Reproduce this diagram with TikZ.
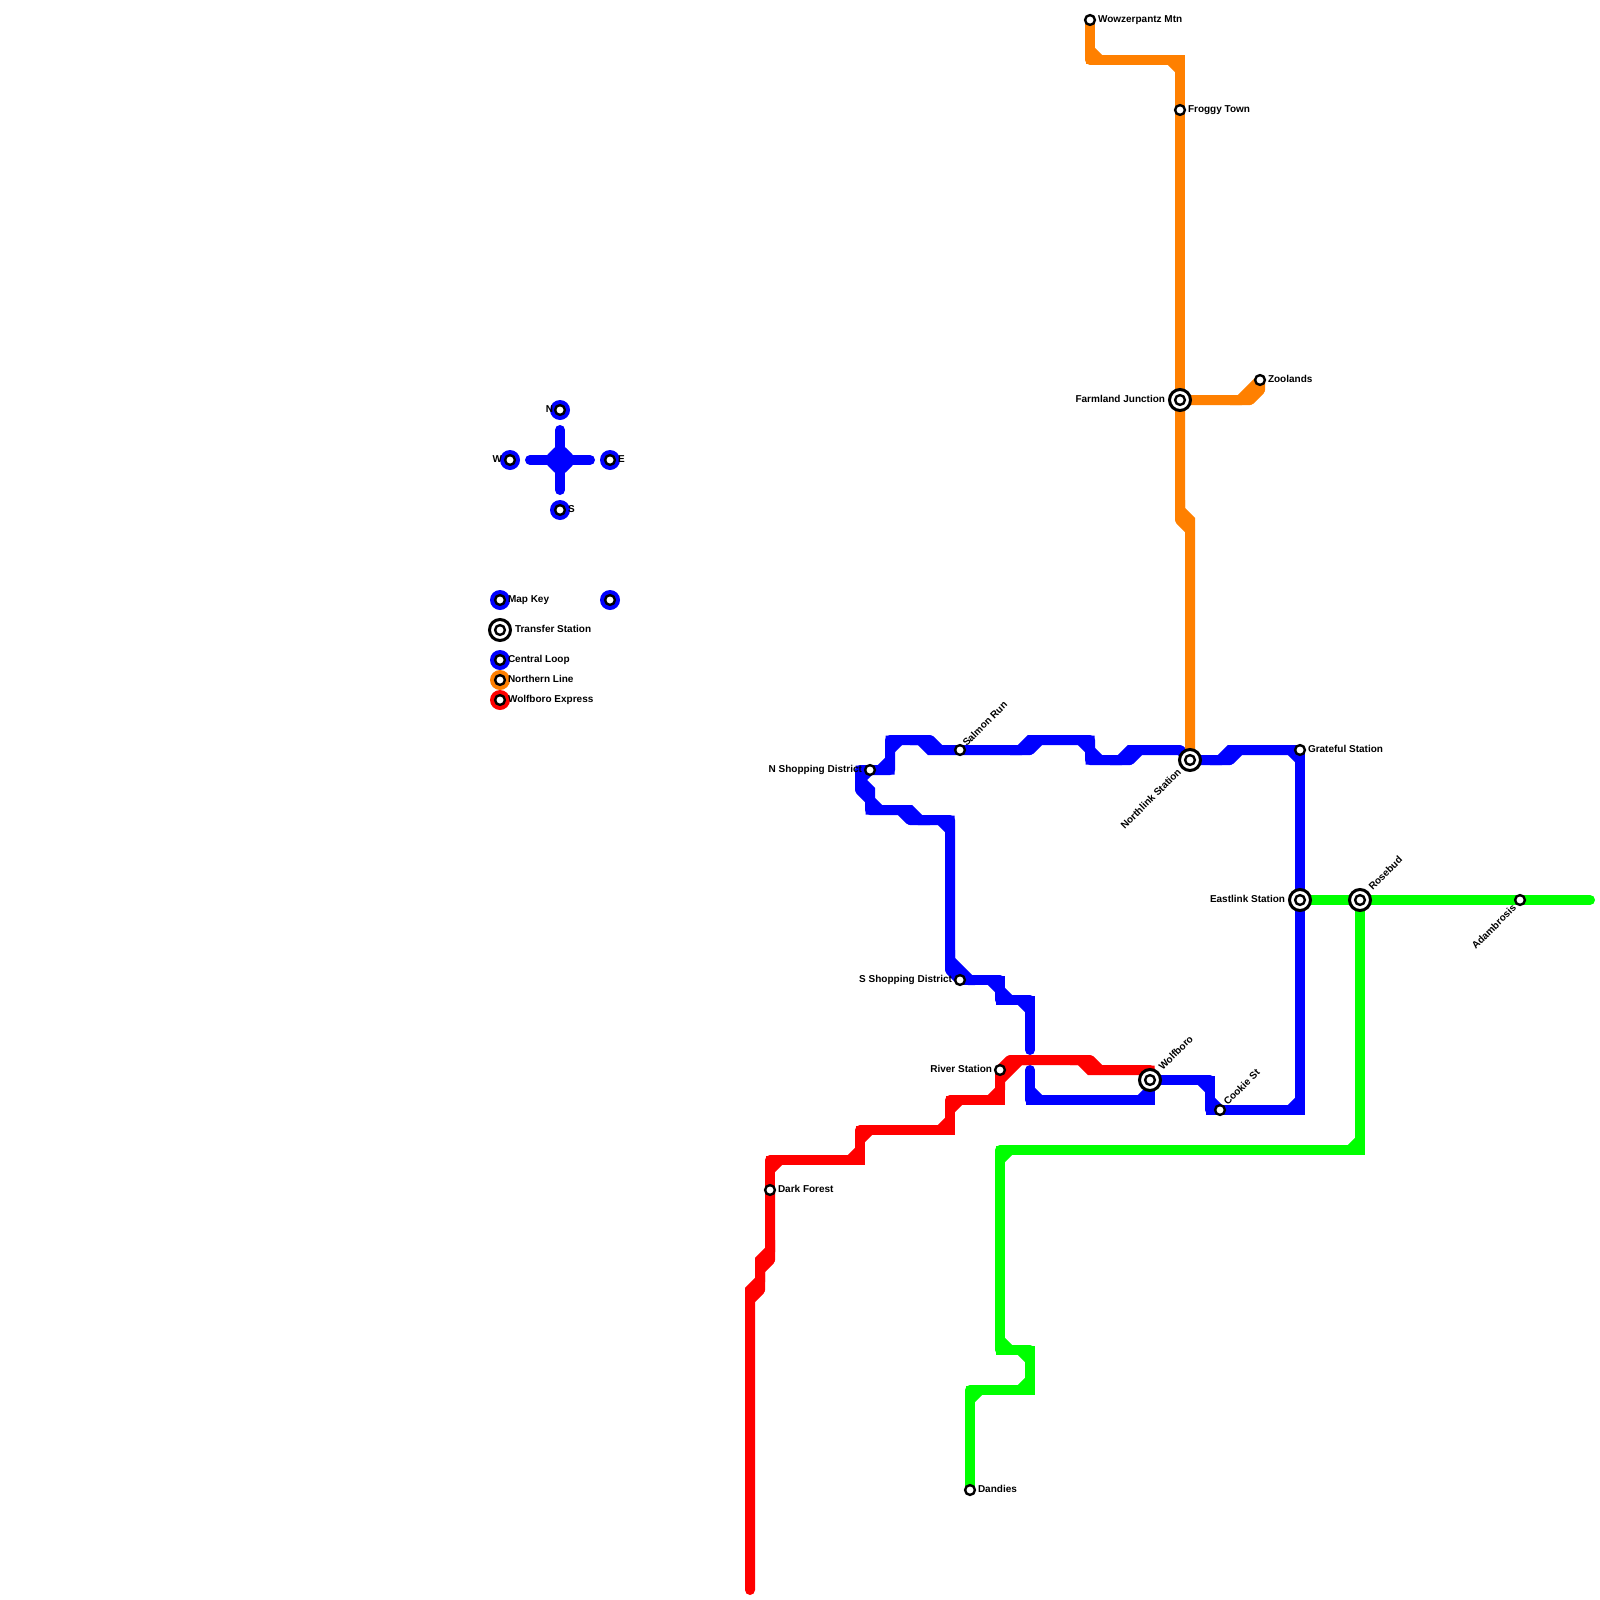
\documentclass[tikz,border=0pt]{standalone}
\usepackage{fontspec}
\setmainfont{Liberation Sans}
\usetikzlibrary{backgrounds}
\definecolor{cblue}{RGB}{0,0,255}
\definecolor{corange}{RGB}{255,128,0}
\definecolor{cred}{RGB}{255,0,0}
\definecolor{cgreen}{RGB}{0,255,0}
\tikzset{
  ln/.style={draw=#1,line width=10pt,line join=round,line cap=round,preaction={draw=#1,line width=9pt,line join=miter,miter limit=10}},
  ch/.style={draw=#1,line width=10pt,line cap=butt,line join=miter,miter limit=10},
  st/.style={circle,draw=black,fill=white,line width=2.4pt,minimum size=9.8pt,inner sep=0pt,outer sep=0pt},
  xfer/.style={circle,draw=black,fill=white,line width=3pt,minimum size=21pt,inner sep=0pt,outer sep=0pt,
    path picture={\draw[black,fill=white,line width=2.4pt] (path picture bounding box.center) circle (4.9pt);}},
  keyst/.style={circle,fill=#1,minimum size=20pt,inner sep=0pt,outer sep=0pt,
    path picture={\draw[black,fill=white,line width=2.4pt] (path picture bounding box.center) circle (4.9pt);}},
  lab/.style={inner sep=0pt,outer sep=0pt,text=black,font=\bfseries\fontsize{10}{10}\selectfont,text height=7pt,text depth=2pt},
  labr/.style={lab,anchor=west},
  labl/.style={lab,anchor=east},
  labu/.style={lab,anchor=west,rotate=45},
  labd/.style={lab,anchor=east,rotate=45}
}
\begin{document}
\begin{tikzpicture}[x=1pt,y=-1pt]
\useasboundingbox (0,0) rectangle (1600,1600);
% stations
\node[st] (wowz) at (1090,20) {};
\node[st] (frog) at (1180,110) {};
\node[xfer] (farm) at (1180,400) {};
\node[st] (zool) at (1260,380) {};
\node[xfer] (north) at (1190,760) {};
\node[st] (grat) at (1300,750) {};
\node[xfer] (east) at (1300,900) {};
\node[xfer] (rose) at (1360,900) {};
\node[st] (adam) at (1520,900) {};
\node[st] (salm) at (960,750) {};
\node[st] (nsho) at (870,770) {};
\node[st] (ssho) at (960,980) {};
\node[st] (river) at (1000,1070) {};
\node[xfer] (wolf) at (1150,1080) {};
\node[st] (cook) at (1220,1110) {};
\node[st] (dark) at (770,1190) {};
\node[st] (dand) at (970,1490) {};
\coordinate (gapn) at (1030,1050);
\coordinate (gaps) at (1030,1070);
\coordinate (redend) at (750,1590);
\coordinate (grnend) at (1590,900);
\coordinate (cw) at (530,460);
\coordinate (ce) at (590,460);
\coordinate (cn) at (560,430);
\coordinate (cs) at (560,490);
% key stations
\node[keyst=cblue] (kn) at (560,410) {};
\node[keyst=cblue] (kw) at (510,460) {};
\node[keyst=cblue] (ke) at (610,460) {};
\node[keyst=cblue] (ks) at (560,510) {};
\node[keyst=cblue] (kmap) at (500,600) {};
\node[keyst=cblue] (kmap2) at (610,600) {};
\node[xfer] (kxfer) at (500,630) {};
\node[keyst=cblue] (kcen) at (500,660) {};
\node[keyst=corange] (knor) at (500,680) {};
\node[keyst=cred] (kwol) at (500,700) {};
\begin{scope}[on background layer]
% compass
\draw[ln=cblue] (cw) -- (ce);
\draw[ln=cblue] (cn) -- (cs);
\draw[ch=cblue] (551,451) -- (569,469) (569,451) -- (551,469);
% blue
\draw[ln=cblue] (gapn) -- (1030,1000) -- (1000,1000) -- (1000,980) -- (ssho.center);
\draw[ln=cblue] (ssho.center) -- (950,970) -- (950,820) -- (910,820) -- (900,810) -- (870,810) -- (870,800) -- (860,790) -- (860,770) -- (nsho.center);
\draw[ln=cblue] (nsho.center) -- (890,770) -- (890,740) -- (930,740) -- (940,750) -- (salm.center);
\draw[ln=cblue] (salm.center) -- (1030,750) -- (1040,740) -- (1090,740) -- (1090,760) -- (1130,760) -- (1140,750) -- (1180,750) -- (north.center);
\draw[ln=cblue] (north.center) -- (1230,760) -- (1240,750) -- (grat.center);
\draw[ln=cblue] (grat.center) -- (east.center) -- (1300,1110) -- (cook.center);
\draw[ln=cblue] (cook.center) -- (1210,1110) -- (1210,1080) -- (wolf.center);
\draw[ln=cblue] (wolf.center) -- (1150,1100) -- (1030,1100) -- (gaps);
\draw[ch=cblue] (880,770) -- (890,760) (870,770) -- (860,780) (900,740) -- (890,750)
  (860,770) -- (860,780) -- (870,790) -- (870,800) (870,800) -- (880,810)
  (900,810) -- (910,810) -- (920,820) -- (930,820) (940,820) -- (950,830)
  (950,950) -- (950,960) -- (970,980) -- (975,980) (990,980) -- (1000,990) (1000,990) -- (1010,1000) (1020,1000) -- (1030,1010)
  (910,740) -- (920,740) -- (930,750) -- (940,750) (1010,750) -- (1020,750) -- (1030,740) -- (1040,740)
  (1080,740) -- (1090,750) (1090,750) -- (1100,760)
  (1110,760) -- (1120,760) -- (1130,750) -- (1140,750) (1210,760) -- (1220,760) -- (1230,750) -- (1240,750)
  (1290,750) -- (1300,760) (1290,1110) -- (1300,1100)
  (1210,1100) -- (1220,1110) (1200,1080) -- (1210,1090) (1140,1100) -- (1150,1090) (1030,1090) -- (1040,1100);
% orange
\draw[ln=corange] (wowz.center) -- (1090,60) -- (1180,60) -- (frog.center);
\draw[ln=corange] (frog.center) -- (farm.center);
\draw[ln=corange] (farm.center) -- (1180,520) -- (1190,530) -- (north.center);
\draw[ln=corange] (farm.center) -- (1250,400) -- (1260,390) -- (zool.center);
\draw[ch=corange] (1090,50) -- (1100,60) (1170,60) -- (1180,70) (1180,500) -- (1180,510) -- (1190,520) -- (1190,530)
  (1230,400) -- (1240,400) -- (1260,380);
% red
\draw[ln=cred] (redend) -- (750,1300) -- (760,1290) -- (760,1270) -- (770,1260) -- (dark.center);
\draw[ln=cred] (dark.center) -- (770,1160) -- (860,1160) -- (860,1130) -- (950,1130) -- (950,1100) -- (1000,1100) -- (river.center);
\draw[ln=cred] (river.center) -- (1010,1060) -- (1090,1060) -- (1100,1070) -- (1150,1070) -- (wolf.center);
\draw[ch=cred] (750,1300) -- (750,1290) -- (760,1280) -- (760,1270) (760,1270) -- (760,1260) -- (770,1250) -- (770,1240)
  (780,1160) -- (770,1170) (850,1160) -- (860,1150)
  (870,1130) -- (860,1140) (940,1130) -- (950,1120) (960,1100) -- (950,1110) (990,1100) -- (1000,1090)
  (1000,1090) -- (1000,1080) -- (1020,1060) -- (1030,1060) (1070,1060) -- (1080,1060) -- (1090,1070) -- (1100,1070);
% green
\draw[ln=cgreen] (east.center) -- (rose.center);
\draw[ln=cgreen] (rose.center) -- (adam.center) -- (grnend);
\draw[ln=cgreen] (rose.center) -- (1360,1150) -- (1000,1150) -- (1000,1350) -- (1030,1350) -- (1030,1390) -- (970,1390) -- (dand.center);
\draw[ch=cgreen] (1350,1150) -- (1360,1140) (1010,1150) -- (1000,1160) (1000,1340) -- (1010,1350)
  (1020,1350) -- (1030,1360) (1030,1380) -- (1020,1390) (980,1390) -- (970,1400);
\end{scope}
% labels
\node[labr] (lwowz) at (1098,20) {Wowzerpantz Mtn};
\node[labr] (lfrog) at (1188,110) {Froggy Town};
\node[labl] (lfarm) at (1165,400) {Farmland Junction};
\node[labr] (lzool) at (1268,380) {Zoolands};
\node[labr] (lgrat) at (1308,750) {Grateful Station};
\node[labd] (lnorth) at (1180,771) {Northlink Station};
\node[labl] (least) at (1285,900) {Eastlink Station};
\node[labu] (lrose) at (1371,889) {Rosebud};
\node[labd] (ladam) at (1515,907) {Adambrosis};
\node[labu] (lsalm) at (965,745) {Salmon Run};
\node[labl] (lnsho) at (862,770) {N Shopping District};
\node[labl] (lssho) at (952,980) {S Shopping District};
\node[labl] (lriver) at (992,1070) {River Station};
\node[labu] (lwolf) at (1161,1069) {Wolfboro};
\node[labu] (lcook) at (1226,1104) {Cookie St};
\node[labr] (ldark) at (778,1190) {Dark Forest};
\node[labr] (ldand) at (978,1490) {Dandies};
\node[labl] (lkn) at (553,410) {N};
\node[labl] (lkw) at (502,460) {W};
\node[labr] (lke) at (618,460) {E};
\node[labr] (lks) at (568,510) {S};
\node[labr] (lmap) at (508,600) {Map Key};
\node[labr] (lxfer) at (515,630) {Transfer Station};
\node[labr] (lcen) at (508,660) {Central Loop};
\node[labr] (lnor) at (508,680) {Northern Line};
\node[labr] (lwol) at (508,700) {Wolfboro Express};
\end{tikzpicture}
\end{document}
